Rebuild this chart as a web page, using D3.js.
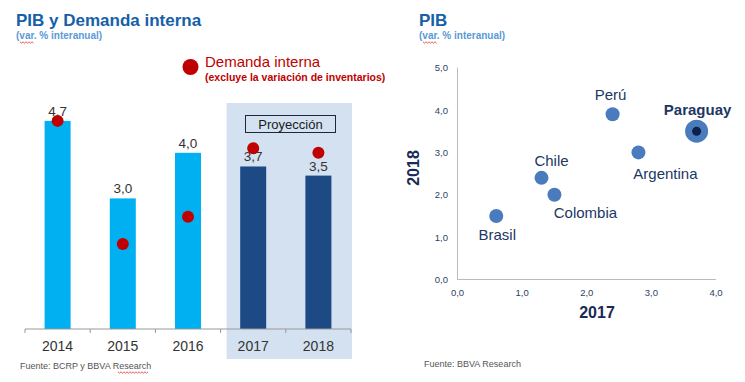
<!DOCTYPE html>
<html>
<head>
<meta charset="utf-8">
<script src="https://cdn.jsdelivr.net/npm/d3@7"></script>
<style>
  body { margin: 0; background: #fff; }
  svg { display: block; font-family: "Liberation Sans", Arial, sans-serif; }
</style>
</head>
<body>
<div id="chart"></div>
<script>
// left chart data
var years = ['2014', '2015', '2016', '2017', '2018']
var pib = [4.7, 3.0, 4.0, 3.7, 3.5]
var demanda = [4.7, 2.0, 2.6, 4.1, 4.0]
var proyeccion = ['2017', '2018']

// right chart data
var paises = ['Perú', 'Paraguay', 'Argentina', 'Chile', 'Colombia', 'Brasil']
var pib2017 = [2.4, 3.7, 2.8, 1.3, 1.5, 0.6]
var pib2018 = [3.9, 3.5, 3.0, 2.4, 2.0, 1.5]
var scatterTicks = [0, 1, 2, 3, 4, 5]

var width = 745, height = 382
var fmt = function(v){ return d3.format('.1f')(v).replace('.', ',') }

var svg = d3.select('#chart').append('svg')
  .attr('width', width)
  .attr('height', height)

// red spellcheck squiggle
function squiggle(x, y, w){
  var pts = []
  for(var i = 0; i <= w; i += 1.5){
    pts.push([x + i, y + ((i / 1.5) % 2 ? 1.2 : -0.2)])
  }
  svg.append('path')
    .attr('d', d3.line()(pts))
    .style('fill', 'none')
    .style('stroke', '#e03030')
    .style('stroke-width', 0.8)
}

// ---------- left: PIB y Demanda interna ----------
var axisY = 329

var x = d3.scaleBand()
  .domain(years)
  .range([25, 351])

var y = d3.scaleLinear()
  .domain([0, 5])
  .range([335.2, 335.2 - 5 * 45.6])

// projection background
svg.append('rect')
  .attr('x', x(proyeccion[0]) + 6)
  .attr('y', 103)
  .attr('width', x(proyeccion[1]) + x.bandwidth() - x(proyeccion[0]) - 5)
  .attr('height', 256)
  .style('fill', '#d3e1f0')

svg.append('rect')
  .attr('x', 245.5)
  .attr('y', 115.5)
  .attr('width', 90)
  .attr('height', 17)
  .style('fill', 'none')
  .style('stroke', '#1a2a3a')
  .style('stroke-width', 1)

svg.append('text')
  .attr('x', 290.5)
  .attr('y', 128.5)
  .attr('text-anchor', 'middle')
  .style('font-size', '13px')
  .style('fill', '#1a1a1a')
  .text('Proyección')

var barW = 26

svg.selectAll('rect.bar')
  .data(years)
  .enter()
  .append('rect')
  .attr('class', 'bar')
  .attr('x', function(d){ return x(d) + x.bandwidth() / 2 - barW / 2 })
  .attr('y', function(d, i){ return y(pib[i]) })
  .attr('width', barW)
  .attr('height', function(d, i){ return axisY - y(pib[i]) })
  .style('fill', function(d){ return proyeccion.indexOf(d) >= 0 ? '#1d4a85' : '#00b0f0' })

svg.selectAll('text.val')
  .data(years)
  .enter()
  .append('text')
  .attr('class', 'val')
  .attr('x', function(d){ return x(d) + x.bandwidth() / 2 })
  .attr('y', function(d, i){ return y(pib[i]) - 5 })
  .attr('text-anchor', 'middle')
  .style('font-size', '13.5px')
  .style('fill', '#333')
  .text(function(d, i){ return fmt(pib[i]) })

svg.selectAll('circle.dem')
  .data(years)
  .enter()
  .append('circle')
  .attr('class', 'dem')
  .attr('cx', function(d){ return x(d) + x.bandwidth() / 2 })
  .attr('cy', function(d, i){ return y(demanda[i]) })
  .attr('r', 6)
  .style('fill', '#c00000')

// x axis
svg.append('line')
  .attr('x1', 25).attr('x2', 351)
  .attr('y1', axisY).attr('y2', axisY)
  .style('stroke', '#999')

var bounds = years.map(function(d){ return x(d) }).concat([x.range()[1]])
svg.selectAll('line.tick')
  .data(bounds)
  .enter()
  .append('line')
  .attr('class', 'tick')
  .attr('x1', function(d){ return d }).attr('x2', function(d){ return d })
  .attr('y1', axisY).attr('y2', axisY + 4)
  .style('stroke', '#999')

svg.selectAll('text.year')
  .data(years)
  .enter()
  .append('text')
  .attr('class', 'year')
  .attr('x', function(d){ return x(d) + x.bandwidth() / 2 })
  .attr('y', 351)
  .attr('text-anchor', 'middle')
  .style('font-size', '14px')
  .style('fill', '#333')
  .text(function(d){ return d })

// legend
svg.append('circle')
  .attr('cx', 190.5).attr('cy', 67)
  .attr('r', 8)
  .style('fill', '#c00000')

svg.append('text')
  .attr('x', 205).attr('y', 67)
  .style('font-size', '15px')
  .style('fill', '#c00000')
  .text('Demanda interna')

svg.append('text')
  .attr('x', 205).attr('y', 81)
  .style('font-size', '10.5px')
  .style('font-weight', 'bold')
  .style('fill', '#c00000')
  .text('(excluye la variación de inventarios)')

// titles
svg.append('text')
  .attr('x', 16).attr('y', 26)
  .style('font-size', '17px')
  .style('font-weight', 'bold')
  .style('fill', '#1660a8')
  .text('PIB y Demanda interna')

svg.append('text')
  .attr('x', 16).attr('y', 39)
  .style('font-size', '10px')
  .style('font-weight', 'bold')
  .style('fill', '#5a9ad6')
  .text('(var. % interanual)')
squiggle(20, 42, 14)

svg.append('text')
  .attr('x', 20).attr('y', 369)
  .style('font-size', '9px')
  .style('fill', '#555')
  .text('Fuente: BCRP y BBVA Research')
squiggle(118, 372, 31)

// ---------- right: PIB scatter ----------
var sx = d3.scaleLinear()
  .domain([0, 4])
  .range([457.5, 716])

var sy = d3.scaleLinear()
  .domain([0, 5])
  .range([279.5, 67.7])

svg.append('line')
  .attr('x1', sx(0)).attr('x2', sx(0))
  .attr('y1', sy(5)).attr('y2', sy(0))
  .style('stroke', '#bbb')

svg.append('line')
  .attr('x1', sx(0)).attr('x2', sx(4))
  .attr('y1', sy(0)).attr('y2', sy(0))
  .style('stroke', '#bbb')

svg.selectAll('text.ytick')
  .data(scatterTicks)
  .enter()
  .append('text')
  .attr('class', 'ytick')
  .attr('x', 448)
  .attr('y', function(d){ return sy(d) + 3.5 })
  .attr('text-anchor', 'end')
  .style('font-size', '9.5px')
  .style('fill', '#2a3f66')
  .text(fmt)

svg.selectAll('text.xtick')
  .data(scatterTicks.slice(0, 5))
  .enter()
  .append('text')
  .attr('class', 'xtick')
  .attr('x', function(d){ return sx(d) })
  .attr('y', 295.5)
  .attr('text-anchor', 'middle')
  .style('font-size', '9.5px')
  .style('fill', '#2a3f66')
  .text(fmt)

svg.append('text')
  .attr('x', 597).attr('y', 318)
  .attr('text-anchor', 'middle')
  .style('font-size', '16px')
  .style('font-weight', 'bold')
  .style('fill', '#172b55')
  .text('2017')

svg.append('text')
  .attr('transform', 'translate(419,168) rotate(-90)')
  .attr('text-anchor', 'middle')
  .style('font-size', '16px')
  .style('font-weight', 'bold')
  .style('fill', '#172b55')
  .text('2018')

// label offsets (dx, dy) per country
var labelPos = {
  'Perú': [-2, -14],
  'Paraguay': [1, -16],
  'Argentina': [27, 27],
  'Chile': [10, -12],
  'Colombia': [31, 23],
  'Brasil': [1, 24]
}

paises.forEach(function(p, i){
  var cx = sx(pib2017[i]), cy = sy(pib2018[i])
  var big = p === 'Paraguay'
  svg.append('circle')
    .attr('cx', cx).attr('cy', cy)
    .attr('r', big ? 11.5 : 7)
    .style('fill', '#4a7bbd')
  if(big){
    svg.append('circle')
      .attr('cx', cx).attr('cy', cy)
      .attr('r', 4.5)
      .style('fill', '#0e1f4a')
  }
  svg.append('text')
    .attr('x', cx + labelPos[p][0])
    .attr('y', cy + labelPos[p][1])
    .attr('text-anchor', 'middle')
    .style('font-size', '15px')
    .style('font-weight', big ? 'bold' : 'normal')
    .style('fill', '#1c3764')
    .text(p)
})

svg.append('text')
  .attr('x', 419).attr('y', 26)
  .style('font-size', '17px')
  .style('font-weight', 'bold')
  .style('fill', '#1660a8')
  .text('PIB')

svg.append('text')
  .attr('x', 419).attr('y', 39)
  .style('font-size', '10px')
  .style('font-weight', 'bold')
  .style('fill', '#5a9ad6')
  .text('(var. % interanual)')
squiggle(423, 42, 14)

svg.append('text')
  .attr('x', 424).attr('y', 367)
  .style('font-size', '9px')
  .style('fill', '#555')
  .text('Fuente: BBVA Research')
</script>
</body>
</html>
